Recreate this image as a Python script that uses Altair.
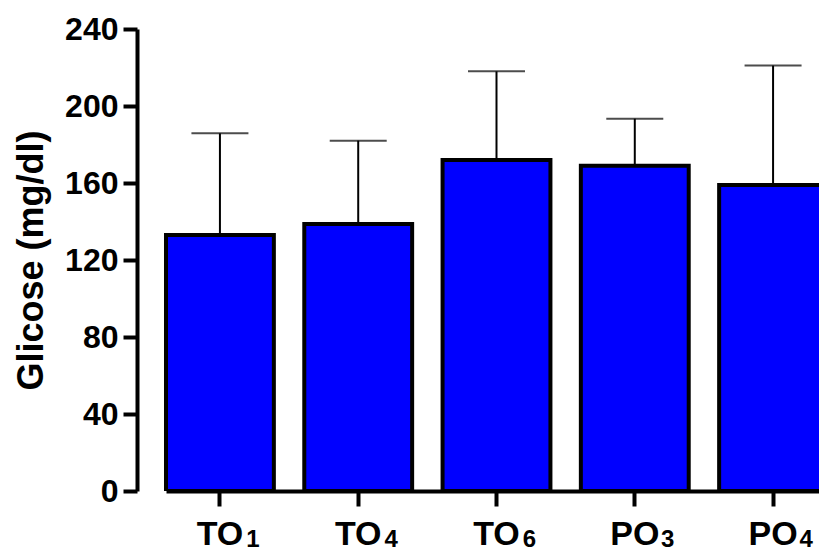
import altair as alt
import pandas as pd

groups = ["TO1", "TO4", "TO6", "PO3", "PO4"]
label_main = ["TO", "TO", "TO", "PO", "PO"]
label_sub = ["1", "4", "6", "3", "4"]
means = [133, 138.7, 172, 169, 159]
upper = [185.8, 182, 218, 193.4, 221]
y_ticks = [0, 40, 80, 120, 160, 200, 240]

df = pd.DataFrame({"group": groups, "main": label_main, "sub": label_sub,
                   "mean": means, "upper": upper})

FONT = "Liberation Sans"

x_enc = alt.X(
    "group:N",
    sort=groups,
    scale=alt.Scale(range=[29, 690], paddingInner=0.22, paddingOuter=0),
    axis=alt.Axis(
        title=None, labelAngle=0, labelAlign="center", labelFont=FONT, labelFontSize=34,
        labelFontWeight="bold", labelColor="black", labelPadding=38,
        labelBaseline="alphabetic",
        labelExpr="substring(datum.label, 0, 2)",
        domainColor="black", domainWidth=4, tickColor="black", tickWidth=4,
        tickSize=15, grid=False,
    ),
)

y_enc = alt.Y(
    "mean:Q",
    scale=alt.Scale(domain=[0, 240], nice=False, zero=True),
    axis=alt.Axis(
        title="Glicose (mg/dl)", titleFont=FONT, titleFontSize=36,
        titleFontWeight="bold", titleColor="black", titlePadding=14,
        values=y_ticks, labelFont=FONT, labelFontSize=32, labelFontWeight="bold",
        labelColor="black", labelPadding=5, domainColor="black", domainWidth=4,
        tickColor="black", tickWidth=4, tickSize=14, grid=False,
    ),
)

base = alt.Chart(df)

bars = base.mark_bar(color="#0000FF", stroke="black", strokeWidth=4, clip=True).encode(
    x=x_enc, y=y_enc
)

err_line = base.mark_rule(color="black", strokeWidth=2).encode(
    x=alt.X("group:N", sort=groups),
    y=alt.Y("mean:Q"),
    y2=alt.Y2("upper:Q"),
)

err_cap = base.mark_tick(color="black", thickness=2, size=57, orient="horizontal").encode(
    x=alt.X("group:N", sort=groups),
    y=alt.Y("upper:Q"),
)

subs = base.mark_text(
    font=FONT, fontSize=24, fontWeight="bold", color="black",
    align="center", baseline="alphabetic", dx=33,
).encode(
    x=alt.X("group:N", sort=groups),
    y=alt.value(518),
    text="sub:N",
)

chart = alt.layer(err_line, err_cap, bars, subs).properties(
    width=682,
    height=462,
    padding={"left": 137, "top": 29, "right": 0, "bottom": 62},
    autosize=alt.AutoSizeParams(type="none"),
    background="white",
).configure_view(strokeWidth=0, stroke="transparent").configure_axis(grid=False)

chart.save("out.html", embed_options={"renderer": "svg", "actions": False})
